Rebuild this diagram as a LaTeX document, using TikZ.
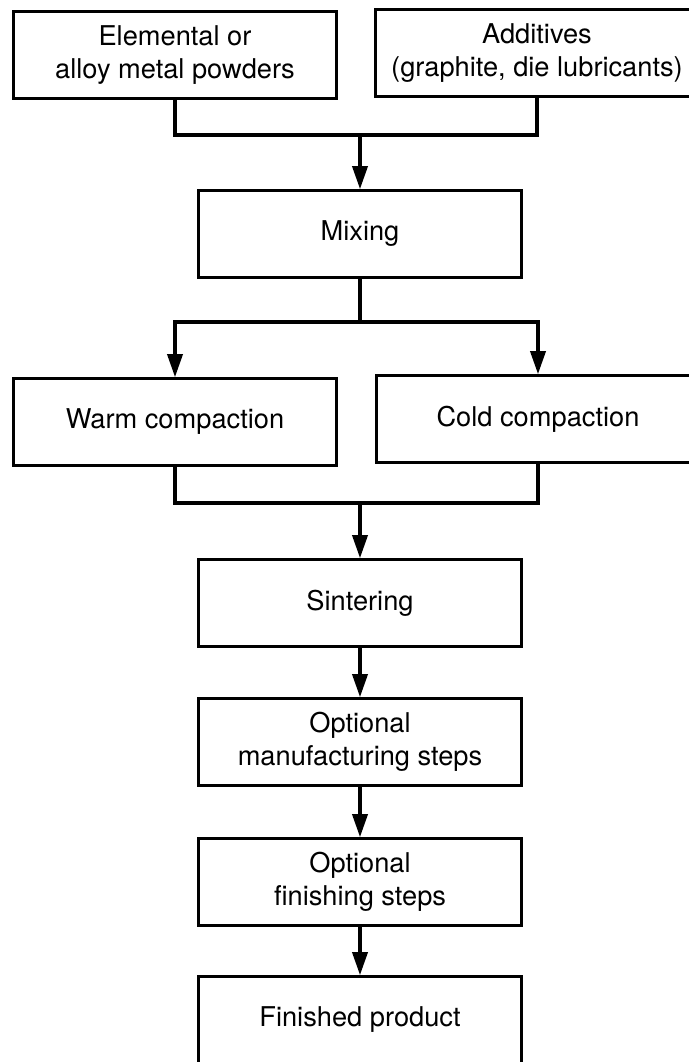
\documentclass[tikz,border=0pt]{standalone}
\usepackage{fontspec}
\setmainfont{TeX Gyre Heros}
\usetikzlibrary{arrows.meta}
\tikzstyle{procbox}=[draw, line width=1.5pt, minimum width=6.46cm, minimum height=1.74cm, align=center, inner sep=0pt, font=\fontsize{15.5}{19}\selectfont]
\tikzstyle{flow}=[line width=2pt]
\tikzstyle{flowarrow}=[line width=2pt, -{Triangle[length=0.46cm,width=0.3cm]}]
\begin{document}
\begin{tikzpicture}[x=0.02cm, y=-0.02cm]
	\useasboundingbox (0,0) rectangle (689,1062);
	\node[procbox] (powders) at (175,55) {Elemental or\\alloy metal powders};
	\node[procbox] (additives) at (537,53) {Additives\\(graphite, die lubricants)};
	\coordinate (join1) at (360,135);
	\node[procbox] (mixing) at (360,234) {Mixing};
	\coordinate (split) at (360,322);
	\node[procbox] (warm) at (175,422) {Warm compaction};
	\node[procbox] (cold) at (538,419) {Cold compaction};
	\coordinate (join2) at (360,503);
	\node[procbox] (sinter) at (360,603) {Sintering};
	\node[procbox] (manuf) at (360,742) {Optional\\manufacturing steps};
	\node[procbox] (finish) at (360,882) {Optional\\finishing steps};
	\node[procbox] (product) at (360,1020) {Finished product};
	\draw[flow] (powders.south) |- (join1) -| (additives.south);
	\draw[flowarrow] (join1) -- (mixing.north);
	\draw[flow] (mixing.south) -- (split);
	\draw[flowarrow] (split) -| (warm.north);
	\draw[flowarrow] (split) -| (cold.north);
	\draw[flow] (warm.south) |- (join2) -| (cold.south);
	\draw[flowarrow] (join2) -- (sinter.north);
	\draw[flowarrow] (sinter) -- (manuf);
	\draw[flowarrow] (manuf) -- (finish);
	\draw[flowarrow] (finish) -- (product);
\end{tikzpicture}
\end{document}
